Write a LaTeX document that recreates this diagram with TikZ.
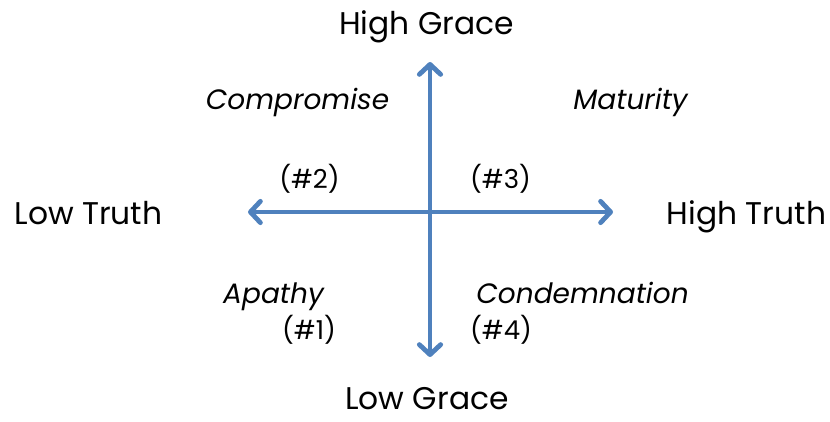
\documentclass[tikz,border=0pt]{standalone}
\usepackage{fontspec}
\setmainfont{Poppins}
\usetikzlibrary{arrows.meta}

\definecolor{axisblue}{HTML}{4F81BD}

\begin{document}
\begin{tikzpicture}[
  x=0.75pt, y=-0.75pt,
  axis/.style={{Straight Barb[length=7.5pt,width=16pt,round]}-{Straight Barb[length=7.5pt,width=16pt,round]}, line width=3.6pt, draw=axisblue},
  pole/.style={anchor=base, inner sep=0pt, font=\fontsize{23.5}{26}\selectfont},
  quad/.style={anchor=base, inner sep=0pt, font=\fontsize{21}{24}\selectfont\itshape},
  num/.style={anchor=base, inner sep=0pt, font=\fontsize{19.5}{24}\selectfont},
]
\useasboundingbox (0,0) rectangle (830,421);

% === Axes ===
\coordinate (top) at (430,62);
\coordinate (bot) at (430,357);
\coordinate (lft) at (248,212);
\coordinate (rgt) at (613,212);
\draw[axis] (top) -- (bot);
\draw[axis] (lft) -- (rgt);

% === Pole labels ===
\node[pole] (hgrace) at (426.5,34) {High Grace};
\node[pole] (lgrace) at (427,409) {Low Grace};
\node[pole] (ltruth) at (88.5,224) {Low Truth};
\node[pole] (htruth) at (746.5,224) {High Truth};

% === Quadrants ===
\node[quad] (comp) at (297.5,109) {Compromise};
\node[quad] (mat) at (630.5,109) {Maturity};
\node[quad] (apa) at (273.5,303) {Apathy};
\node[quad] (cond) at (582.5,303) {Condemnation};

\node[num] (n2) at (309.5,188) {(\#2)};
\node[num] (n3) at (500.5,188) {(\#3)};
\node[num] (n1) at (309,339) {(\#1)};
\node[num] (n4) at (501,339) {(\#4)};

\end{tikzpicture}
\end{document}
